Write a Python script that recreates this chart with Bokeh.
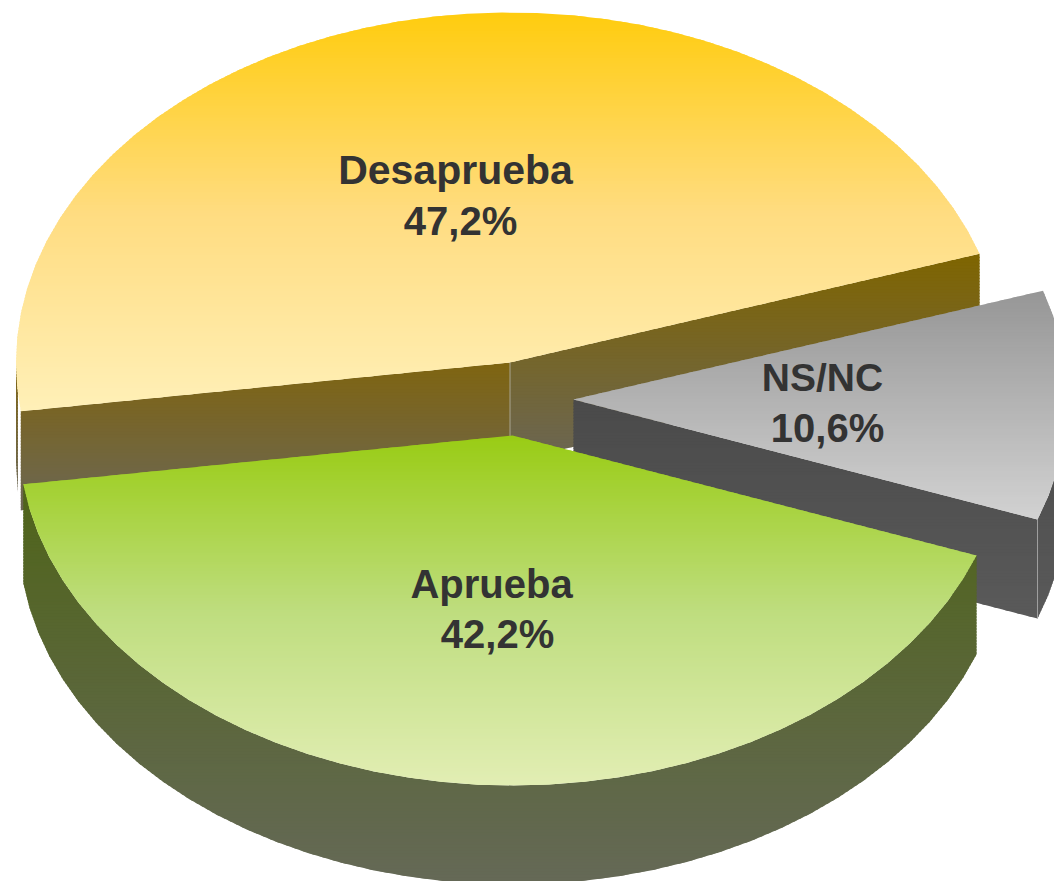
import numpy as np
from bokeh.core.properties import value
from bokeh.embed import file_html
from bokeh.models import Range1d
from bokeh.plotting import figure
from bokeh.resources import INLINE

# ---- data
categories = ["Desaprueba", "Aprueba", "NS/NC"]
shares = [47.2, 42.2, 10.6]
share_labels = ["47,2%", "42,2%", "10,6%"]

# ---- layout (pixel-like data space of the picture)
A, B, DEPTH = 494.0, 350.0, 99.0
START_DEG = 18.1
centres = {"Desaprueba": (509.5, 362.0), "Aprueba": (512.0, 435.0), "NS/NC": (573.0, 399.0)}
label_pos = {"Desaprueba": (455, 169, 460, 220), "Aprueba": (491, 583, 497, 633), "NS/NC": (822, 377, 827, 427)}
name_size = {"Desaprueba": "41px", "Aprueba": "40px", "NS/NC": "39px"}

# ---- styles: (top, middle, bottom colour)
top_grad = {"Desaprueba": ("#FFCC0E", "#FFDC80", "#FFF0B8"),
            "Aprueba": ("#99CC14", "#BEDD7E", "#E2EEB4"),
            "NS/NC": ("#969696", "#B4B4B4", "#D2D2D2")}
wall_grad = {"Desaprueba": ("#7F6500", "#6B6655"), "Aprueba": ("#4F6419", "#656957"), "NS/NC": ("#4A4A4A", "#5A5A5A")}
text_color = "#333333"
FONT = "Liberation Sans"

p = figure(width=1054, height=881, output_backend="svg", toolbar_location=None,
           x_range=Range1d(0, 1054), y_range=Range1d(881, 0), min_border=0,
           background_fill_color="white", border_fill_color="white")
p.axis.visible = False
p.grid.visible = False
p.outline_line_color = None


def hexrgb(h):
    return np.array([int(h[i:i + 2], 16) for i in (1, 3, 5)], float)


def mix(stops, f):
    f = min(max(f, 0.0), 1.0) * (len(stops) - 1)
    i = min(int(f), len(stops) - 2)
    g = f - i
    r = hexrgb(stops[i]) * (1 - g) + hexrgb(stops[i + 1]) * g
    return "#%02x%02x%02x" % tuple(int(round(v)) for v in r)


def clip(poly, y, keep_below):
    out = []
    n = len(poly)
    for i in range(n):
        a, b = poly[i], poly[(i + 1) % n]
        ia = a[1] >= y if keep_below else a[1] <= y
        ib = b[1] >= y if keep_below else b[1] <= y
        if ia:
            out.append(a)
        if ia != ib:
            f = (y - a[1]) / (b[1] - a[1])
            out.append((a[0] + f * (b[0] - a[0]), y))
    return out


def gradient_patch(poly, *stops, step=3.0, overlap=1.5):
    ys = [q[1] for q in poly]
    y0, y1 = min(ys), max(ys)
    xs_all, ys_all, cols = [], [], []
    y = y0
    while y < y1:
        band = clip(clip(poly, y, True), min(y + step + overlap, y1), False)
        if len(band) >= 3:
            xs_all.append([q[0] for q in band])
            ys_all.append([q[1] for q in band])
            cols.append(mix(stops, (y + step / 2 - y0) / (y1 - y0)))
        y += step
    p.patches(xs_all, ys_all, fill_color=cols, line_color=None)


def point(c, t):
    r = np.radians(t)
    return (c[0] + A * np.cos(r), c[1] - B * np.sin(r))


def arc(c, t0, t1, n_per_deg=0.25):
    n = max(2, int(abs(t1 - t0) * n_per_deg) + 1)
    return [point(c, t) for t in np.linspace(t0, t1, n)]


def drop(pts):
    return [(q[0], q[1] + DEPTH) for q in reversed(pts)]


# slice angles from the shares
angles = {}
t = START_DEG
for cat, s in zip(categories, shares):
    angles[cat] = (t, t + s * 3.6)
    t += s * 3.6

# --- Desaprueba
cat = "Desaprueba"
c, (t0, t1) = centres[cat], angles[cat]
right, left = point(c, t0), point(c, t1)
w0, w1 = wall_grad[cat]
gradient_patch([c, right] + drop([c, right]), w0, w1)
gradient_patch([c, left] + drop([c, left]), "#7F6510", w1)
strip = arc(c, 180, t1 - 3)
gradient_patch(strip + drop(strip), "#7F6510", w1)
p.segment([c[0]], [c[1]], [c[0]], [c[1] + DEPTH], line_color="#A8A490", line_width=1)
gradient_patch([c] + arc(c, t0, t1), *top_grad[cat])

# --- NS/NC
cat = "NS/NC"
c, (t0, t1) = centres[cat], angles[cat]
front = point(c, t0)
w0, w1 = wall_grad[cat]
outer = arc(c, t0, 360)
gradient_patch(outer + drop(outer), w0, w1)
gradient_patch([c, front] + drop([c, front]), w0, w1)
p.segment([front[0]], [front[1]], [front[0]], [front[1] + DEPTH], line_color="#A0A0A0", line_width=1)
gradient_patch([c] + arc(c, t0, t1), *top_grad[cat])

# --- Aprueba
cat = "Aprueba"
c, (t0, t1) = centres[cat], angles[cat]
edge = arc(c, t0, t1)
w0, w1 = wall_grad[cat]
gradient_patch(edge + drop(edge), w0, w1)
gradient_patch([c] + edge, *top_grad[cat])

# --- labels
for cat, sl in zip(categories, share_labels):
    x1, y1, x2, y2 = label_pos[cat]
    p.text([x1], [y1], text=[cat], text_font=value(FONT), text_font_style="bold",
           text_font_size=name_size[cat], text_color=text_color, text_align="center",
           text_baseline="alphabetic")
    p.text([x2], [y2], text=[sl], text_font=value(FONT), text_font_style="bold",
           text_font_size="40px", text_color=text_color, text_align="center",
           text_baseline="alphabetic")

open("out.html", "w").write(file_html(p, INLINE))
